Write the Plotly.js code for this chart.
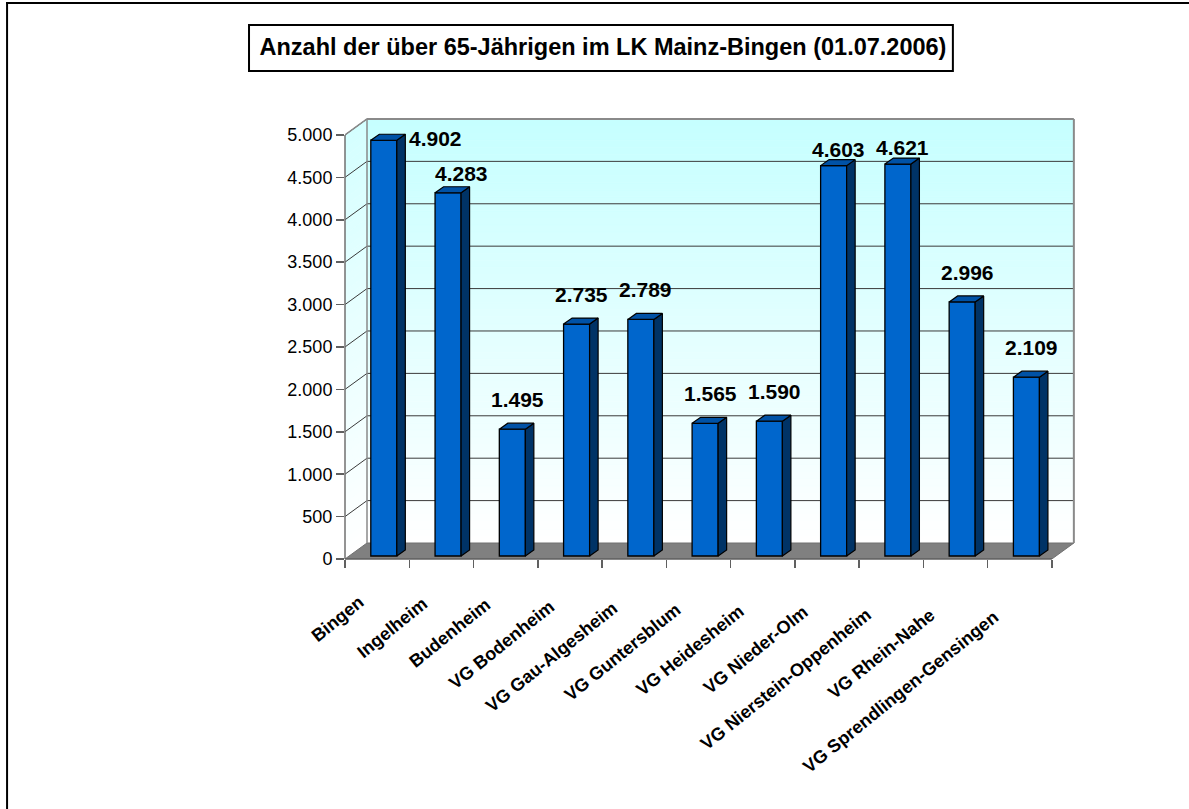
<!DOCTYPE html>
<html>
<head>
<meta charset="utf-8">
<script src="https://cdn.plot.ly/plotly-3.0.1.min.js"></script>
<style>
html,body{margin:0;padding:0;background:#fff;}
#chart{width:1189px;height:809px;}
</style>
</head>
<body>
<div id="chart"></div>
<script>
// ---------- data ----------
const categories = ['Bingen','Ingelheim','Budenheim','VG Bodenheim','VG Gau-Algesheim','VG Guntersblum','VG Heidesheim','VG Nieder-Olm','VG Nierstein-Oppenheim','VG Rhein-Nahe','VG Sprendlingen-Gensingen'];
const values = [4902, 4283, 1495, 2735, 2789, 1565, 1590, 4603, 4621, 2996, 2109];
const yTickValues = [0, 500, 1000, 1500, 2000, 2500, 3000, 3500, 4000, 4500, 5000];
const yTickLabels = ['0', '500', '1.000', '1.500', '2.000', '2.500', '3.000', '3.500', '4.000', '4.500', '5.000'];
const titleText = 'Anzahl der über 65-Jährigen im LK Mainz-Bingen (01.07.2006)';

// ---------- geometry / style ----------
const FONT = 'Liberation Sans, Arial, Helvetica, sans-serif';
const W = 1189, H = 809;
const N = categories.length;
const XMAX = 11.36, YMAX = 5200;
const L = 345, T = 118, B = 250;
const U = 707 / 11;                 // px per category
const plotW = XMAX * U;
const R = W - L - plotW;
const plotH = H - T - B;
const PY = plotH / YMAX;            // px per value unit
const DX = 22 / U, DY = 16 / PY;    // wall depth
const BDX = 8.5 / U, BDY = 6 / PY;  // bar depth
const BASE = 3 / PY;                // bar base offset
const BW = 0.405, BOFF = 0.604;     // bar width / center offset in category

const fmt = v => String(v).replace(/\B(?=(\d{3})+(?!\d))/g, '.');
const px2paperX = px => (px - L) / plotW;
const px2paperY = py => (H - B - py) / plotH;

function mix(c1, c2, t) {
  const a = [parseInt(c1.substr(1,2),16), parseInt(c1.substr(3,2),16), parseInt(c1.substr(5,2),16)];
  const b = [parseInt(c2.substr(1,2),16), parseInt(c2.substr(3,2),16), parseInt(c2.substr(5,2),16)];
  return 'rgb(' + a.map((v,i) => Math.round(v + (b[i]-v)*t)).join(',') + ')';
}

const shapes = [];
const TOPC = '#C6FFFF', BOTC = '#FFFFFF';
const SIDE_TOPC = '#D4FFFF';
const NB = 60;
const yTop = yTickValues[yTickValues.length - 1];
// side wall (gradient bands)
for (let k = 0; k < NB; k++) {
  const va = yTop * k / NB, vb = yTop * (k + 1) / NB;
  const c = mix(BOTC, SIDE_TOPC, (k + 0.5) / NB);
  shapes.push({type:'path', xref:'x', yref:'y', layer:'below',
    path:`M0,${va} L${DX},${va+DY} L${DX},${vb+DY} L0,${vb} Z`,
    fillcolor:c, line:{color:c, width:0.6}});
}
// back wall (gradient bands)
for (let k = 0; k < NB; k++) {
  const va = yTop * k / NB + DY, vb = yTop * (k + 1) / NB + DY;
  const c = mix(BOTC, TOPC, (k + 0.5) / NB);
  shapes.push({type:'path', xref:'x', yref:'y', layer:'below',
    path:`M${DX},${va} L${N+DX},${va} L${N+DX},${vb} L${DX},${vb} Z`,
    fillcolor:c, line:{color:c, width:0.6}});
}
// floor
shapes.push({type:'path', xref:'x', yref:'y', layer:'below',
  path:`M0,0 L${N},0 L${N+DX},${DY} L${DX},${DY} Z`,
  fillcolor:'#808080', line:{color:'#707070', width:1}});
// gridlines
yTickValues.forEach(v => {
  if (v > 0 && v < yTop) {
    shapes.push({type:'line', xref:'x', yref:'y', layer:'below',
      x0:DX, y0:v+DY, x1:N+DX, y1:v+DY, line:{color:'#3a3a3a', width:1}});
  }
  if (v > 0) {
    shapes.push({type:'line', xref:'x', yref:'y', layer:'below',
      x0:0, y0:v, x1:DX, y1:v+DY, line:{color:'#3a3a3a', width:1}});
  }
});
// wall borders
shapes.push({type:'line', xref:'x', yref:'y', layer:'below', x0:DX, y0:yTop+DY, x1:N+DX, y1:yTop+DY, line:{color:'#8a8a8a', width:2}});
shapes.push({type:'line', xref:'x', yref:'y', layer:'below', x0:N+DX, y0:DY, x1:N+DX, y1:yTop+DY, line:{color:'#8a8a8a', width:2}});
shapes.push({type:'line', xref:'x', yref:'y', layer:'below', x0:DX, y0:DY, x1:DX, y1:yTop+DY, line:{color:'#8a8a8a', width:1.5}});
shapes.push({type:'line', xref:'x', yref:'y', layer:'below', x0:0, y0:yTop, x1:DX, y1:yTop+DY, line:{color:'#8a8a8a', width:1.5}});
// front axes
shapes.push({type:'line', xref:'paper', yref:'y', layer:'above', x0:0, y0:0, x1:0, y1:yTop, line:{color:'#707070', width:1.5}});
shapes.push({type:'line', xref:'x', yref:'paper', layer:'above', x0:0, y0:0, x1:N, y1:0, line:{color:'#606060', width:1.5}});
// title box
shapes.push({type:'rect', xref:'paper', yref:'paper', layer:'below',
  x0:px2paperX(249), x1:px2paperX(953), y0:px2paperY(25), y1:px2paperY(71),
  fillcolor:'#FFFFFF', line:{color:'#000', width:2}});
// outer frame (top and left)
shapes.push({type:'line', xref:'paper', yref:'paper', x0:px2paperX(6), x1:px2paperX(W+2), y0:px2paperY(3), y1:px2paperY(3), line:{color:'#000', width:2}});
shapes.push({type:'line', xref:'paper', yref:'paper', x0:px2paperX(7), x1:px2paperX(7), y0:px2paperY(2), y1:px2paperY(H+2), line:{color:'#000', width:2}});

// ---------- traces ----------
const xs = categories.map((c, i) => i + BOFF);
const traces = [];
traces.push({type:'bar', x:xs, y:values, base:BASE, width:BW,
  marker:{color:'#0066CC', line:{color:'#000', width:1.3}}, hoverinfo:'skip'});

values.forEach((v, i) => {
  const xl = xs[i] - BW/2, xr = xs[i] + BW/2;
  const b = BASE, t = BASE + v;
  traces.push({type:'scatter', mode:'lines', hoverinfo:'skip', fill:'toself', fillcolor:'#003366',
    x:[xr, xr+BDX, xr+BDX, xr, xr], y:[b, b+BDY, t+BDY, t, b], line:{color:'#000', width:1.2}});
  traces.push({type:'scatter', mode:'lines', hoverinfo:'skip', fill:'toself', fillcolor:'#0052A6',
    x:[xl, xr, xr+BDX, xl+BDX, xl], y:[t, t, t+BDY, t+BDY, t], line:{color:'#000', width:1.2}});
});

// ---------- annotations ----------
const annotations = [];
values.forEach((v, i) => {
  let xshift = 5, yshift = (v > 4000 ? -3 : 10), y = BASE + v + BDY, yanchor = 'bottom';
  if (i === 0) { xshift = 52; yshift = 2; y = BASE + v; yanchor = 'middle'; }
  if (i === 1) { xshift = 13.5; yshift = 0; }
  annotations.push({xref:'x', yref:'y', x:xs[i], y:y, xanchor:'center', yanchor:yanchor,
    xshift:xshift, yshift:yshift, showarrow:false, text:fmt(v),
    font:{family:FONT, size:21, color:'#000', weight:'bold'}});
});
categories.forEach((c, i) => {
  annotations.push({xref:'x', yref:'y', x:i + 0.5, y:0, xanchor:'right', yanchor:'top',
    xshift:-7 - 0.8*i, yshift:-(30 + 1.5*i), textangle:-39, showarrow:false, text:c,
    font:{family:FONT, size:18, color:'#000', weight:'bold'}});
});

const layout = {
  width:W, height:H,
  margin:{l:L, r:R, t:T, b:B, pad:0},
  paper_bgcolor:'#FFFFFF', plot_bgcolor:'rgba(0,0,0,0)',
  showlegend:false,
  title:{text:titleText, x:603/W, xanchor:'center', y:1 - 47/H, yanchor:'middle',
    font:{family:FONT, size:23.5, color:'#000', weight:'bold'}},
  xaxis:{range:[0, XMAX], tickvals:categories.map((c,i)=>i).concat([N]), ticks:'outside', ticklen:8,
    tickcolor:'#606060', tickwidth:1.5, showticklabels:false, showgrid:false, zeroline:false, showline:false, fixedrange:true},
  yaxis:{range:[0, YMAX], tickvals:yTickValues, ticktext:yTickLabels, ticks:'outside', ticklen:8,
    tickcolor:'#606060', tickwidth:1.5, showgrid:false, zeroline:false, showline:false, fixedrange:true,
    tickfont:{family:FONT, size:18, color:'#000'}},
  shapes:shapes,
  annotations:annotations
};

Plotly.newPlot('chart', traces, layout, {displayModeBar:false, staticPlot:true});
</script>
</body>
</html>
